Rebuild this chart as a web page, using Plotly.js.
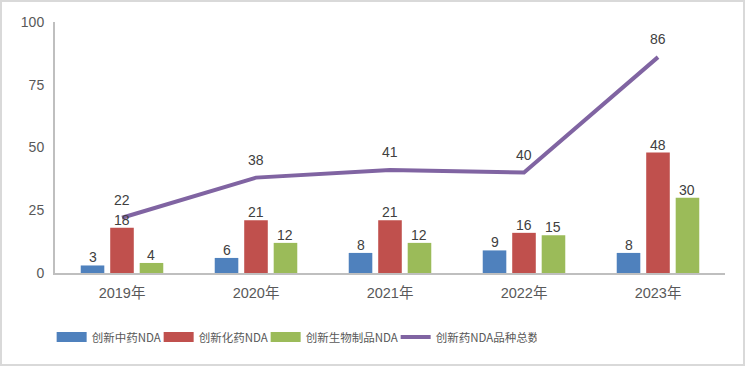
<!DOCTYPE html>
<html>
<head>
<meta charset="utf-8">
<script src="https://cdn.plot.ly/plotly-3.0.1.min.js"></script>
<style>
  html, body { margin: 0; padding: 0; background: #fff; }
  #wrap { width: 745px; height: 366px; box-sizing: border-box; border: 2px solid #D9D9D9; background: #fff; }
  #chart { width: 741px; height: 362px; }
</style>
</head>
<body>
<div id="wrap"><div id="chart"></div></div>
<script>
const categories = ['2019年', '2020年', '2021年', '2022年', '2023年'];
const tcmNDA = [3, 6, 8, 9, 8];          // 创新中药NDA
const chemNDA = [18, 21, 21, 16, 48];    // 创新化药NDA
const bioNDA = [4, 12, 12, 15, 30];      // 创新生物制品NDA
const totalNDA = [22, 38, 41, 40, 86];   // 创新药NDA品种总数
const seriesNames = ['创新中药NDA', '创新化药NDA', '创新生物制品NDA', '创新药NDA品种总数'];
const yTicks = [0, 25, 50, 75, 100];

const colors = ['#4F81BD', '#C0504D', '#9BBB59', '#8064A2'];
const labelFont = { family: 'Liberation Sans, Arial, sans-serif', size: 14, color: '#404040' };
const BARGAP = 0.34, BARGROUPGAP = 0.2;
const barSeries = [tcmNDA, chemNDA, bioNDA];

function barTrace(vals, i) {
  return {
    type: 'bar', x: categories, y: vals, name: seriesNames[i],
    marker: { color: colors[i] },
    showlegend: false, legendgroup: 'g' + i, hoverinfo: 'x+y'
  };
}
function legendProxy(i, w) {
  return {
    type: 'scatter', mode: 'lines', x: [null], y: [null], name: seriesNames[i],
    line: { color: colors[i], width: w }, legendgroup: 'g' + i, hoverinfo: 'skip'
  };
}

const traces = [
  barTrace(tcmNDA, 0), barTrace(chemNDA, 1), barTrace(bioNDA, 2),
  {
    type: 'scatter', mode: 'lines', x: categories, y: totalNDA, name: seriesNames[3],
    line: { color: colors[3], width: 4 }, showlegend: false, legendgroup: 'g3', cliponaxis: false
  },
  legendProxy(0, 10), legendProxy(1, 10), legendProxy(2, 10), legendProxy(3, 4)
];

// bar value labels: placed at each bar's centre (group slot geometry) just above the bar
const slot = (1 - BARGAP) / barSeries.length;
const annotations = [];
barSeries.forEach((vals, k) => {
  vals.forEach((v, i) => {
    annotations.push({
      x: i + (k - (barSeries.length - 1) / 2) * slot, y: v, xref: 'x', yref: 'y',
      text: String(v), showarrow: false, yanchor: 'bottom', yshift: -2, font: labelFont
    });
  });
});
// line value labels
totalNDA.forEach((v, i) => {
  annotations.push({
    x: i, y: v, xref: 'x', yref: 'y', text: String(v),
    showarrow: false, yanchor: 'middle', yshift: 18, font: labelFont
  });
});

const layout = {
  width: 741, height: 362,
  margin: { l: 53, r: 18, t: 20, b: 90 },
  paper_bgcolor: '#fff', plot_bgcolor: '#fff',
  barmode: 'group', bargap: BARGAP, bargroupgap: BARGROUPGAP,
  font: { family: 'Liberation Sans, Arial, sans-serif', size: 14, color: '#595959' },
  xaxis: {
    type: 'category', showgrid: false, zeroline: false,
    showline: true, linecolor: '#BFBFBF', linewidth: 2,
    ticks: '', ticklabelstandoff: 6,
    tickfont: { family: 'Liberation Sans, Noto Sans CJK SC, sans-serif', size: 14.5, color: '#595959' },
    fixedrange: true
  },
  yaxis: {
    range: [0, 100], tickvals: yTicks, ticktext: yTicks.map(String),
    showgrid: false, zeroline: false,
    showline: true, linecolor: '#BFBFBF', linewidth: 2,
    ticks: '', ticklabelstandoff: 6,
    tickfont: { family: 'Liberation Sans, Arial, sans-serif', size: 14, color: '#595959' },
    fixedrange: true
  },
  legend: {
    orientation: 'h', x: -0.005, xanchor: 'left', y: -0.255, yanchor: 'middle',
    font: { family: 'Noto Sans CJK SC, sans-serif', size: 11.5, color: '#595959' },
    traceorder: 'normal', itemclick: false, itemdoubleclick: false
  },
  annotations: annotations,
  showlegend: true
};

const gd = document.getElementById('chart');
Plotly.newPlot(gd, traces, layout, { displayModeBar: false, staticPlot: true }).then(() => {
  // tighten horizontal legend spacing: set each entry width to its measured text width
  const texts = gd.querySelectorAll('.legend .traces text.legendtext');
  const widths = Array.from(texts).map(t => Math.ceil(t.getComputedTextLength()) - 8);
  if (widths.length === 4) {
    return Plotly.restyle(gd, { legendwidth: widths }, [4, 5, 6, 7]);
  }
});
</script>
</body>
</html>
